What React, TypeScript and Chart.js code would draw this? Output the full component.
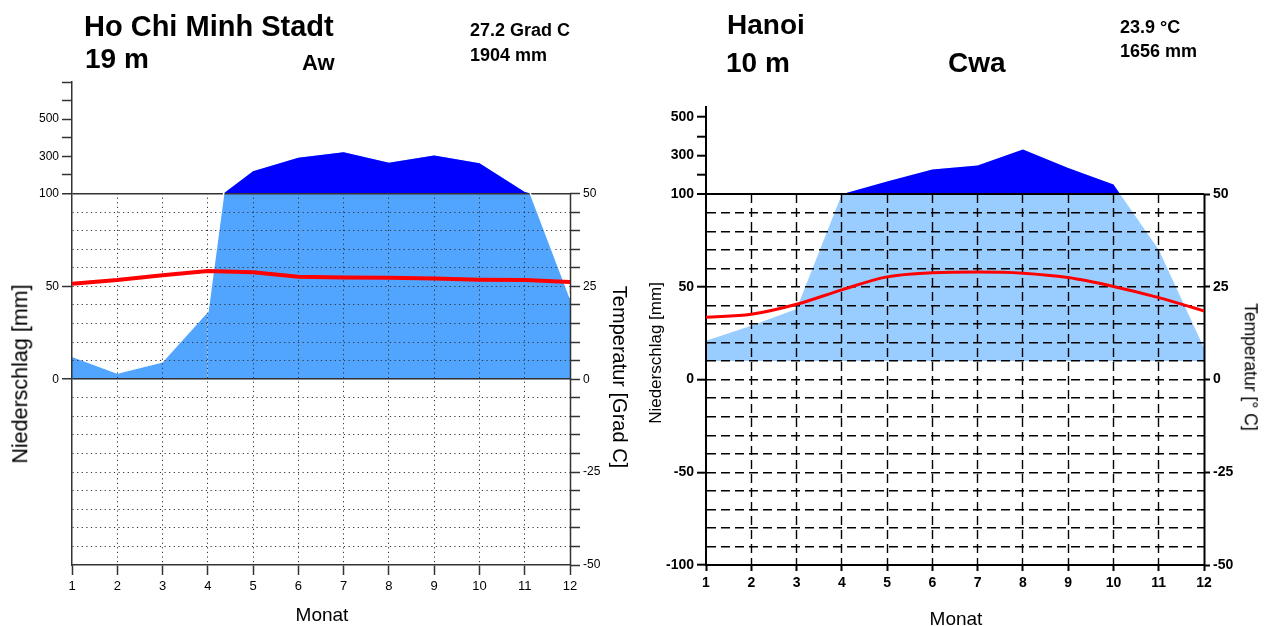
import React, { useEffect, useRef } from 'react';
import { Chart, registerables } from 'chart.js';

Chart.register(...registerables);

// ---------------- data ----------------
const months = [1, 2, 3, 4, 5, 6, 7, 8, 9, 10, 11, 12];

const hcmPrecipMm = [12, 3, 9, 36, 219, 292, 322, 265, 304, 262, 108, 44];
const hcmTempC = [25.7, 26.7, 28.0, 29.1, 28.8, 27.6, 27.4, 27.3, 27.1, 26.8, 26.7, 26.2];

const hanoiPrecipMm = [21, 29, 38, 100, 165, 228, 249, 331, 235, 150, 70, 17];
const hanoiTempC = [16.8, 17.6, 20.3, 24.2, 27.7, 28.8, 29.0, 28.7, 27.5, 25.1, 22.1, 18.5];

const hcmPrecipTickLabels = [0, 50, 100, 300, 500];
const hcmPrecipTickMarks = [0, 50, 100, 200, 300, 400, 500, 600, 700];
const hanoiPrecipTickLabels = [-100, -50, 0, 50, 100, 300, 500];
const hanoiPrecipTickMarks = [-100, -50, 0, 50, 100, 200, 300, 400, 500];

const tempTickLabels = [-50, -25, 0, 25, 50];
const hcmTempTickMarks = [-50, -45, -40, -35, -30, -25, -20, -15, -10, -5, 0, 5, 10, 15, 20, 25, 30, 35, 40, 45, 50];
const hanoiTempTickMarks = [-50, -25, 0, 25, 50];

// ---------------- chart building ----------------
const FONT = "'Liberation Sans', Arial, Helvetica, sans-serif";
const CLEAR = 'rgba(0,0,0,0)';

type Diagram = {
  precip: number[];
  temp: number[];
  upper: number; // axis units per mm above 100 mm
  uMax: number;
  interp: 'mm' | 'piecewise';
  fillBase: number;
  tickLabels: number[];
  tickMarks: number[];
  tempMarks: number[];
  padTop: number;
  yWidth: number;
  yTWidth: number;
  light: string;
  lineColor: string;
  dotted: number[];
  gridW: number;
  axisW: number;
  zeroSolid: boolean;
  leftTick: number;
  rightTick: number;
  bottomTick: number;
  tickFont: any;
  xTickFont: any;
  redWidth: number;
  tension: number;
};

function buildConfig(d: Diagram): any {
  const toU = (mm: number) => (mm <= 100 ? mm : 100 + (mm - 100) * d.upper);
  const affine = (mm: number) => 100 + (mm - 100) * d.upper;
  const near = (a: number, b: number) => Math.abs(a - b) < 0.01;

  const gridU: number[] = [];
  for (let v = -100; v <= 100; v += 10) gridU.push(v);
  d.tickMarks.map(toU).forEach((u) => {
    if (!gridU.some((g) => near(g, u))) gridU.push(u);
  });
  gridU.sort((a, b) => a - b);
  const markU = d.tickMarks.map(toU);

  const pts = (vals: number[], f: (v: number) => number) => vals.map((v, i) => ({ x: months[i], y: f(v) }));

  const tempDs = {
    label: 'Temperatur',
    data: pts(d.temp, (v) => v),
    yAxisID: 'yT',
    xAxisID: 'x',
    borderColor: '#ff0000',
    borderWidth: d.redWidth,
    tension: d.tension,
    cubicInterpolationMode: d.tension > 0 ? 'monotone' : 'default',
    pointRadius: 0,
    fill: false,
    order: 0,
  };
  const area = (data: any[], fill: any, order: number, color: string, extra: any = {}) => ({
    data,
    yAxisID: 'y',
    xAxisID: 'x',
    borderWidth: 0,
    borderColor: CLEAR,
    backgroundColor: color,
    pointRadius: 0,
    tension: 0,
    fill,
    order,
    ...extra,
  });

  let datasets: any[];
  if (d.interp === 'mm') {
    datasets = [
      tempDs,
      area(pts(d.precip, affine), { target: { value: 100 }, above: '#0000ff', below: CLEAR }, 1, '#0000ff'),
      area(pts(d.precip, affine), { target: 3, above: CLEAR, below: '#ffffff' }, 2, '#ffffff'),
      area(pts(d.precip, (v) => v), { target: { value: d.fillBase } }, 3, d.light, {
        borderWidth: 1.5,
        segment: {
          borderColor: (c: any) => (c.p0.parsed.y > 100 || c.p1.parsed.y > 100 ? '#ffffff' : CLEAR),
        },
      }),
    ];
  } else {
    datasets = [
      tempDs,
      area(pts(d.precip, toU), { target: { value: 100 }, above: '#0000ff', below: CLEAR }, 1, '#0000ff'),
      area(pts(d.precip, toU), { target: { value: d.fillBase } }, 2, d.light),
    ];
  }

  const monthTicks = (s: any) => {
    s.ticks = months.map((v) => ({ value: v }));
  };
  const tMax = d.uMax / 2;

  return {
    type: 'line',
    data: { datasets },
    options: {
      responsive: false,
      animation: false,
      events: [],
      layout: { padding: { top: d.padTop, left: 0, right: 0, bottom: 0 } },
      plugins: {
        legend: { display: false },
        tooltip: { enabled: false },
        filler: { drawTime: 'beforeDraw', propagate: false },
      },
      scales: {
        x: {
          type: 'linear',
          position: 'bottom',
          min: 1,
          max: 12,
          afterBuildTicks: monthTicks,
          afterFit: (s: any) => {
            s.height = 61;
          },
          ticks: {
            font: d.xTickFont,
            color: '#000',
            padding: 4,
            maxRotation: 0,
            autoSkip: false,
            callback: (v: any) => String(v),
          },
          grid: {
            drawOnChartArea: false,
            drawTicks: true,
            tickLength: d.bottomTick,
            tickColor: d.lineColor,
            tickWidth: d.axisW,
          },
          border: { display: true, color: d.lineColor, width: d.axisW },
        },
        xg: {
          type: 'linear',
          position: { y: 100 },
          min: 1,
          max: 12,
          afterBuildTicks: monthTicks,
          ticks: { display: false },
          grid: {
            drawOnChartArea: false,
            drawTicks: true,
            tickLength: 371,
            tickColor: (c: any) => (c.tick && c.tick.value === 1 ? CLEAR : d.lineColor),
            tickWidth: (c: any) => (c.tick && c.tick.value === 12 ? d.axisW : d.gridW),
            tickBorderDash: (c: any) => (c.tick && c.tick.value === 12 ? [] : d.dotted),
          },
          border: { display: false },
        },
        y: {
          type: 'linear',
          position: 'left',
          min: -100,
          max: d.uMax,
          afterBuildTicks: (s: any) => {
            s.ticks = gridU.map((v) => ({ value: v }));
          },
          afterFit: (s: any) => {
            s.width = d.yWidth;
          },
          ticks: {
            font: d.tickFont,
            color: '#000',
            padding: 3,
            autoSkip: false,
            callback: (v: any) => {
              const hit = d.tickLabels.find((mm) => near(toU(mm), v));
              return hit === undefined ? '' : String(hit);
            },
          },
          grid: {
            drawOnChartArea: true,
            drawTicks: true,
            tickLength: d.leftTick,
            color: (c: any) => {
              const v = c.tick ? c.tick.value : 0;
              if (v > 100.5 || v < -99.5) return CLEAR;
              return d.lineColor;
            },
            lineWidth: (c: any) => {
              const v = c.tick ? c.tick.value : 0;
              if (near(v, 100)) return d.axisW;
              if (d.zeroSolid && near(v, 0)) return d.axisW;
              return d.gridW;
            },
            tickColor: (c: any) => {
              const v = c.tick ? c.tick.value : 0;
              return markU.some((m) => near(m, v)) ? d.lineColor : CLEAR;
            },
            tickWidth: d.axisW,
            tickBorderDash: [],
          },
          border: {
            display: true,
            color: d.lineColor,
            width: d.axisW,
            dash: (c: any) => {
              if (!c.tick) return [];
              const v = c.tick.value;
              if (near(v, 100)) return [];
              if (d.zeroSolid && near(v, 0)) return [];
              return d.dotted;
            },
          },
        },
        yT: {
          type: 'linear',
          position: 'right',
          min: -50,
          max: tMax,
          afterBuildTicks: (s: any) => {
            s.ticks = d.tempMarks.map((v) => ({ value: v }));
          },
          afterFit: (s: any) => {
            s.width = d.yTWidth;
          },
          ticks: {
            font: d.tickFont,
            color: '#000',
            padding: 3,
            autoSkip: false,
            callback: (v: any) => (tempTickLabels.includes(v) ? String(v) : ''),
          },
          grid: {
            drawOnChartArea: false,
            drawTicks: true,
            tickLength: d.rightTick,
            tickColor: d.lineColor,
            tickWidth: d.axisW,
          },
          border: { display: false },
        },
      },
    },
  };
}

const hcmDiagram: Diagram = {
  precip: hcmPrecipMm,
  temp: hcmTempC,
  upper: 0.1,
  uMax: 160,
  interp: 'mm',
  fillBase: 0,
  tickLabels: hcmPrecipTickLabels,
  tickMarks: hcmPrecipTickMarks,
  tempMarks: hcmTempTickMarks,
  padTop: 82,
  yWidth: 72,
  yTWidth: 63,
  light: '#52a5ff',
  lineColor: '#333333',
  dotted: [1.2, 3.4],
  gridW: 1,
  axisW: 1.5,
  zeroSolid: true,
  leftTick: 10,
  rightTick: 10,
  bottomTick: 10,
  tickFont: { family: FONT, size: 12 },
  xTickFont: { family: FONT, size: 13 },
  redWidth: 4,
  tension: 0,
};

const hanoiDiagram: Diagram = {
  precip: hanoiPrecipMm,
  temp: hanoiTempC,
  upper: 0.104,
  uMax: 147,
  interp: 'piecewise',
  fillBase: 10,
  tickLabels: hanoiPrecipTickLabels,
  tickMarks: hanoiPrecipTickMarks,
  tempMarks: hanoiTempTickMarks,
  padTop: 107,
  yWidth: 73,
  yTWidth: 62,
  light: '#99ccff',
  lineColor: '#000000',
  dotted: [9, 5],
  gridW: 1.4,
  axisW: 2,
  zeroSolid: false,
  leftTick: 9,
  rightTick: 6,
  bottomTick: 6,
  tickFont: { family: FONT, size: 14, weight: 'bold' },
  xTickFont: { family: FONT, size: 14, weight: 'bold' },
  redWidth: 3,
  tension: 0.4,
};

function ClimateChart({ d, left, width }: { d: Diagram; left: number; width: number }) {
  const ref = useRef<HTMLCanvasElement>(null);
  useEffect(() => {
    const chart = new Chart(ref.current as HTMLCanvasElement, buildConfig(d));
    const ys: any = chart.scales.y;
    const len = Math.round(ys.getPixelForValue(-100)) - Math.round(ys.getPixelForValue(100));
    (chart.options as any).scales.xg.grid.tickLength = len;
    chart.update();
    return () => chart.destroy();
  }, []);
  return (
    <canvas
      ref={ref}
      width={width}
      height={626}
      style={{ position: 'absolute', left, top: 0, width, height: 626 }}
    />
  );
}

const txt = (s: string, left: number, top: number, size: number, bold = true): any => (
  <div
    style={{
      position: 'absolute',
      left,
      top,
      fontFamily: FONT,
      fontSize: size,
      fontWeight: bold ? 'bold' : 'normal',
      lineHeight: 1,
      whiteSpace: 'nowrap',
      color: '#000',
    }}
  >
    {s}
  </div>
);

const rot = (s: string, cx: number, cy: number, size: number, deg: number, bold = false): any => (
  <div
    style={{
      position: 'absolute',
      left: cx,
      top: cy,
      transform: `translate(-50%, -50%) rotate(${deg}deg)`,
      fontFamily: FONT,
      fontSize: size,
      fontWeight: bold ? 'bold' : 'normal',
      lineHeight: 1,
      whiteSpace: 'nowrap',
      color: '#000',
    }}
  >
    {s}
  </div>
);

export default function App() {
  return (
    <div
      style={{
        position: 'fixed',
        left: 0,
        top: 0,
        width: 1266,
        height: 626,
        background: '#ffffff',
        overflow: 'hidden',
      }}
    >
      <ClimateChart d={hcmDiagram} left={0} width={633} />
      <ClimateChart d={hanoiDiagram} left={633} width={633} />

      {txt('Ho Chi Minh Stadt', 84, 12, 29)}
      {txt('19 m', 85, 45, 28)}
      {txt('Aw', 302, 52, 22)}
      {txt('27.2 Grad C', 470, 21, 18)}
      {txt('1904 mm', 470, 46, 18)}
      {rot('Niederschlag [mm]', 21, 374, 21.5, -90)}
      {rot('Temperatur [Grad C]', 620, 377, 20, 90)}
      {rot('Monat', 322, 614, 19, 0)}

      {txt('Hanoi', 727, 11, 28)}
      {txt('10 m', 726, 49, 28)}
      {txt('Cwa', 948, 49, 28)}
      {txt('23.9 °C', 1120, 18, 18)}
      {txt('1656 mm', 1120, 42, 18)}
      {rot('Niederschlag [mm]', 655, 353, 17, -90)}
      {rot('Temperatur [° C]', 1250, 367, 17.5, 90)}
      {rot('Monat', 956, 618, 19, 0)}
    </div>
  );
}
